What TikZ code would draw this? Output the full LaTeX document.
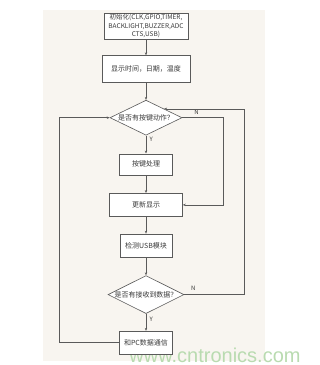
\documentclass[tikz,border=0pt]{standalone}
\usepackage{fontspec}
\usepackage{xcolor}
\usepackage{tikz}
\usetikzlibrary{positioning, arrows.meta, shapes.geometric}
\newfontfamily\cjk{Noto Sans CJK SC}
\newfontfamily\wmfont{Liberation Sans}
\definecolor{panelBg}{HTML}{f8f5f0}
\definecolor{lineGray}{HTML}{5a5a5a}
\definecolor{txtGray}{HTML}{3a3a3a}
\definecolor{wmGreen}{HTML}{b9dbb0}

\begin{document}
\begin{tikzpicture}[x=1pt, y=-1pt, proc/.style={draw=lineGray, fill=white, line width=0.6pt, minimum height=23pt, inner sep=1pt, align=center, text=txtGray, font=\cjk\fontsize{7}{8.5}\selectfont}, dec/.style={diamond, draw=lineGray, fill=white, line width=0.6pt, aspect=2, inner sep=0pt, minimum width=72pt, minimum height=35pt, text=txtGray, font=\cjk\fontsize{7}{8.5}\selectfont}, arr/.style={draw=lineGray, line width=0.6pt, -{Stealth[length=3pt, width=2.4pt]}}, yn/.style={font=\cjk\fontsize{6}{7}\selectfont, text=txtGray}]
\useasboundingbox (0,0) rectangle (320,365);
\fill[panelBg] (43,10) rectangle (265,361);
\node[font=\wmfont\fontsize{20}{22}\selectfont, text=wmGreen, inner sep=0pt, anchor=base] (wm) at (215,362) {www.cntronics.com};
\node[proc, minimum width=84pt, minimum height=26pt, font=\cjk\fontsize{6.5}{8.5}\selectfont] (init) at (146,26) {初始化(CLK,GPIO,TIMER,\\BACKLIGHT,BUZZER,ADC\\CTS,USB)};
\node[proc, minimum width=88pt, minimum height=27pt, below=16pt of init] (show) {显示时间，日期，温度};
\node[dec, below=17pt of show] (key) {是否有按键动作？};
\node[proc, minimum width=53pt, minimum height=21pt, below=18pt of key] (keyp) {按键处理};
\node[proc, minimum width=73pt, below=18pt of keyp] (upd) {更新显示};
\node[proc, minimum width=52pt, below=17pt of upd] (usb) {检测USB模块};
\node[dec, below=18pt of usb] (recv) {是否有接收到数据？};
\node[proc, minimum width=53pt, below=17pt of recv] (pc) {和PC数据通信};
\draw[arr] (init) -- (show);
\draw[arr] (show) -- (key);
\draw[arr] (key) -- node[yn, pos=0.2, right] {Y} (keyp);
\draw[arr] (keyp) -- (upd);
\draw[arr] (upd) -- (usb);
\draw[arr] (usb) -- (recv);
\draw[arr] (recv) -- node[yn, pos=0.3, right] {Y} (pc);
\draw[arr] (key.east) -- node[yn, pos=0.35, above] {N} ++(41,0) |- (upd.east);
\draw[arr] (recv.east) -- node[yn, pos=0.15, above] {N} ++(60,0) |- (key.north east);
\draw[arr] (pc.west) -- ++(-60,0) |- (key.west);
\end{tikzpicture}
\end{document}
